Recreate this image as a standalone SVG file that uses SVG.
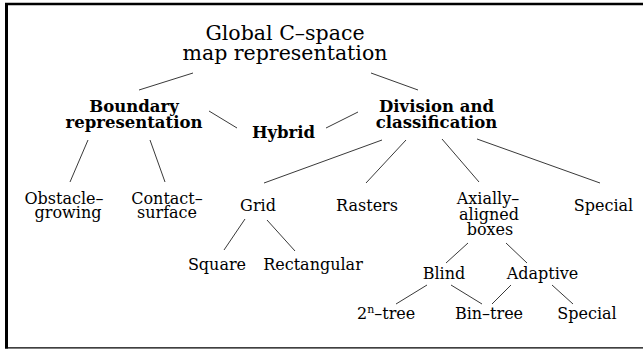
<svg xmlns="http://www.w3.org/2000/svg" width="643" height="351" viewBox="0 0 643 351">
<style>
  text { font-family: "DejaVu Serif", "Liberation Serif", serif; fill: #000; text-anchor: middle; }
  .title { font-size: 20.5px; }
  .b { font-size: 16.5px; font-weight: bold; }
  .r { font-size: 16px; }
  .sup { font-size: 11px; }
  #connectors line { stroke: #222; stroke-width: 0.9; fill: none; }
  .frame { stroke: #000; fill: none; }
</style>
<rect x="0" y="0" width="643" height="351" fill="#fff"/>
<g id="frame">
  <line class="frame" x1="5" y1="4" x2="643" y2="4" stroke-width="2.6"/>
  <line class="frame" x1="6.5" y1="3" x2="6.5" y2="348.5" stroke-width="3"/>
  <line class="frame" x1="5" y1="347.8" x2="643" y2="347.8" stroke-width="1.2"/>
</g>
<g id="connectors">
  <line x1="193" y1="73" x2="139" y2="90"/>
  <line x1="371" y1="73" x2="418" y2="90"/>
  <line x1="209" y1="111" x2="237" y2="128"/>
  <line x1="326" y1="128" x2="358" y2="112"/>
  <line x1="88" y1="140" x2="70" y2="182"/>
  <line x1="150" y1="140" x2="165" y2="182"/>
  <line x1="382" y1="140" x2="264" y2="183"/>
  <line x1="406" y1="140" x2="366" y2="183"/>
  <line x1="442" y1="139" x2="479" y2="182"/>
  <line x1="477" y1="139" x2="600" y2="183"/>
  <line x1="245" y1="219" x2="224" y2="250"/>
  <line x1="267" y1="220" x2="295" y2="251"/>
  <line x1="468" y1="243" x2="446" y2="263"/>
  <line x1="506" y1="243" x2="527" y2="263"/>
  <line x1="427" y1="285" x2="396" y2="304"/>
  <line x1="451" y1="285" x2="482" y2="304"/>
  <line x1="511" y1="285" x2="492" y2="304"/>
  <line x1="552" y1="285" x2="573" y2="304"/>
</g>
<g id="root">
  <text class="title" x="285" y="40">Global C–space</text>
  <text class="title" x="285" y="60">map representation</text>
</g>
<g id="boundary">
  <text class="b" x="134" y="112">Boundary</text>
  <text class="b" x="134" y="128">representation</text>
</g>
<g id="hybrid">
  <text class="b" x="283.5" y="138">Hybrid</text>
</g>
<g id="division">
  <text class="b" x="436.5" y="112">Division and</text>
  <text class="b" x="436.5" y="128">classification</text>
</g>
<g id="obstacle">
  <text class="r" x="64" y="204">Obstacle–</text>
  <text class="r" x="68" y="218">growing</text>
</g>
<g id="contact">
  <text class="r" x="167" y="204">Contact–</text>
  <text class="r" x="167" y="218">surface</text>
</g>
<g id="grid">
  <text class="r" x="258" y="211">Grid</text>
</g>
<g id="rasters">
  <text class="r" x="367" y="211">Rasters</text>
</g>
<g id="axially">
  <text class="r" x="488" y="204">Axially–</text>
  <text class="r" x="489" y="219.5">aligned</text>
  <text class="r" x="490" y="235">boxes</text>
</g>
<g id="special1">
  <text class="r" x="603.5" y="211">Special</text>
</g>
<g id="square">
  <text class="r" x="217" y="270">Square</text>
</g>
<g id="rectangular">
  <text class="r" x="313" y="270">Rectangular</text>
</g>
<g id="blind">
  <text class="r" x="444" y="279">Blind</text>
</g>
<g id="adaptive">
  <text class="r" x="542.5" y="279">Adaptive</text>
</g>
<g id="ntree">
  <text class="r" x="357" y="319" style="text-anchor:start">2<tspan class="sup" dy="-6">n</tspan><tspan dy="6">–tree</tspan></text>
</g>
<g id="bintree">
  <text class="r" x="489" y="319">Bin–tree</text>
</g>
<g id="special2">
  <text class="r" x="587" y="319">Special</text>
</g>
</svg>
